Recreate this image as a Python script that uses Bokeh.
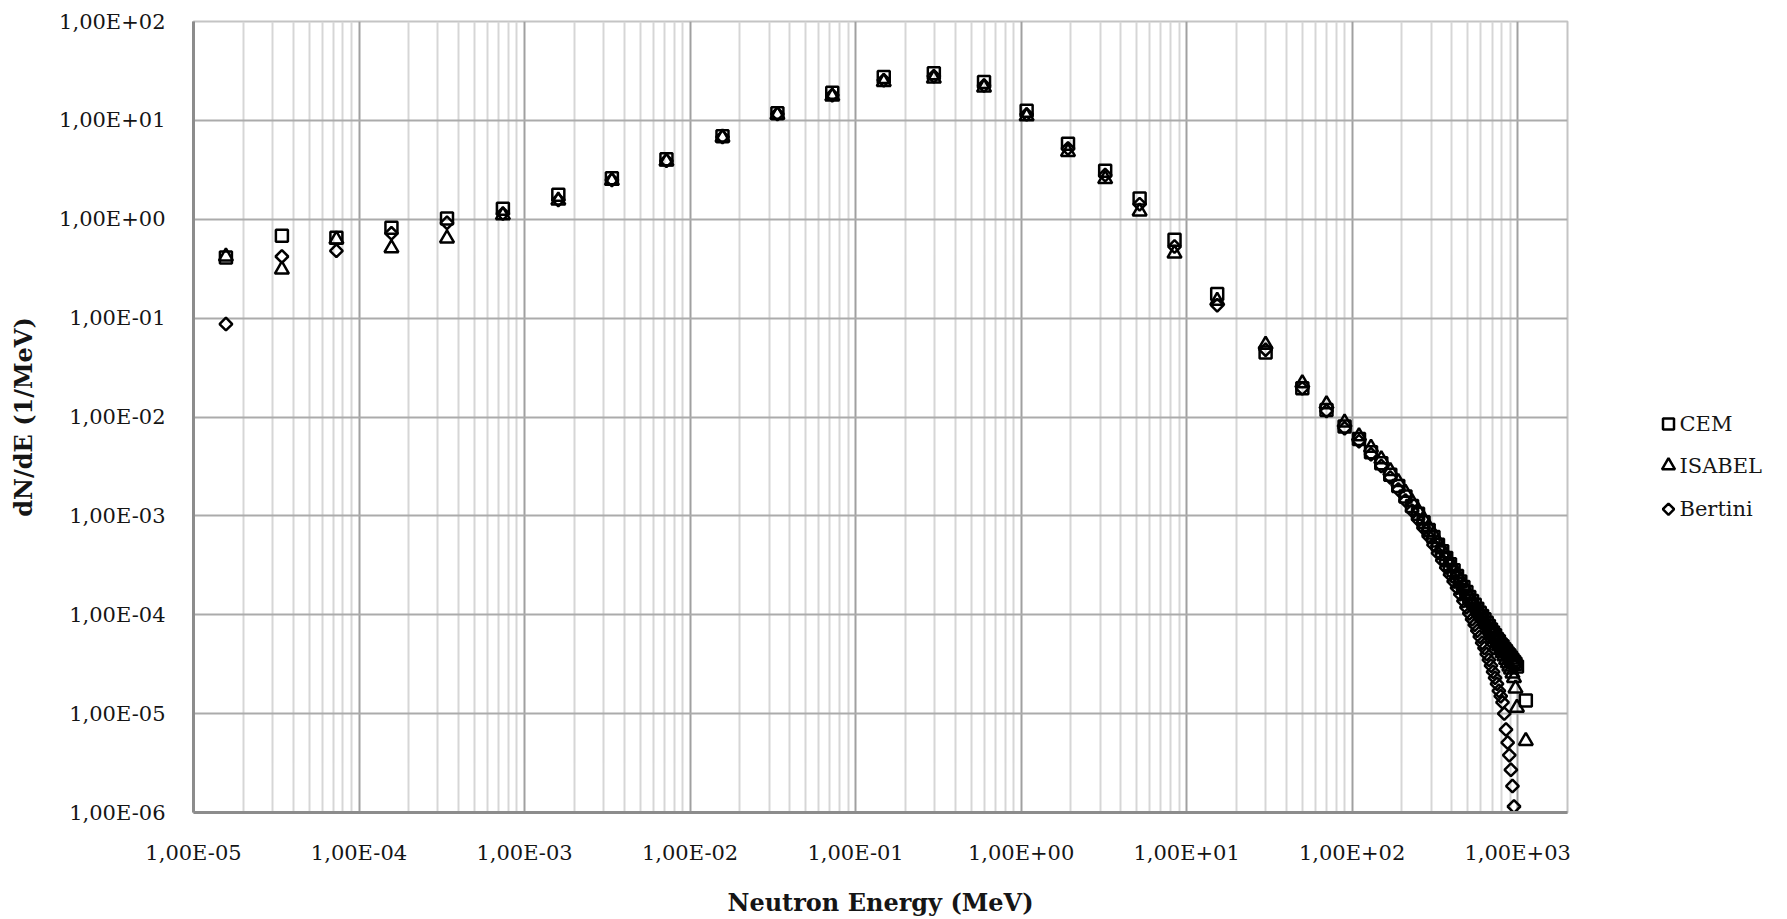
from bokeh.plotting import figure
from bokeh.layouts import row
from bokeh.models import FixedTicker, CustomJSTickFormatter, Range1d
from bokeh.core.properties import value
from bokeh.embed import file_html
from bokeh.resources import INLINE
from math import pi

# Neutron energy bins (MeV), shared low-energy part
energy_low = [1.57e-5, 3.42e-5, 7.3e-5, 1.57e-4, 3.4e-4, 7.4e-4, 1.6e-3,
              3.37e-3, 7.2e-3, 1.57e-2, 3.37e-2, 7.23e-2, 0.148, 0.297,
              0.597, 1.08, 1.92, 3.22, 5.2, 8.45, 15.3]

# High-energy part (20 MeV steps)
energy_high = [30, 50, 70, 90, 110, 130, 150, 170, 190, 210,
               230, 250, 270, 290, 310, 330, 350, 370, 390, 410,
               430, 450, 470, 490, 510, 530, 550, 570, 590, 610,
               630, 650, 670, 690, 710, 730, 750, 770, 790, 810,
               830, 850, 870, 890, 910, 930, 950, 970, 990]

# dN/dE (1/MeV) per model
cem_low = [0.41, 0.68, 0.65, 0.82, 1.02, 1.28, 1.77, 2.6, 4.05, 6.9, 11.8,
           19.0, 27.5, 30.0, 24.5, 12.5, 5.8, 3.1, 1.62, 0.62, 0.175]
isabel_low = [0.42, 0.31, 0.625, 0.51, 0.64, 1.10, 1.55, 2.45, 3.85, 6.7,
              11.4, 17.5, 24.5, 26.5, 21.5, 11.0, 4.8, 2.55, 1.2, 0.45, 0.15]
bertini_low = [0.087, 0.42, 0.48, 0.72, 0.92, 1.14, 1.57, 2.5, 3.9, 6.8,
               11.6, 18.0, 25.5, 28.0, 22.5, 11.5, 5.2, 2.8, 1.42, 0.53, 0.135]

cem_high = [0.045, 0.0195, 0.0118, 0.0080, 0.0060, 0.0044, 3.4e-3, 2.6e-3,
            2.0e-3, 1.57e-3, 1.26e-3, 1.05e-3, 8.6e-4, 7.2e-4, 6.1e-4, 5.1e-4,
            4.4e-4, 3.76e-4, 3.24e-4, 2.82e-4, 2.47e-4, 2.17e-4, 1.91e-4,
            1.70e-4, 1.51e-4, 1.38e-4, 1.26e-4, 1.15e-4, 1.05e-4, 9.7e-5,
            9.0e-5, 8.3e-5, 7.7e-5, 7.1e-5, 6.6e-5, 6.2e-5, 5.7e-5, 5.4e-5,
            5.0e-5, 4.8e-5, 4.5e-5, 4.3e-5, 4.05e-5, 3.9e-5, 3.7e-5, 3.5e-5,
            3.35e-5, 3.2e-5, 3.0e-5]
isabel_high = [0.054, 0.022, 0.0135, 0.0088, 0.0064, 0.0049, 3.75e-3, 2.85e-3,
               2.2e-3, 1.72e-3, 1.38e-3, 1.13e-3, 9.3e-4, 7.7e-4, 6.5e-4,
               5.4e-4, 4.6e-4, 3.95e-4, 3.4e-4, 2.95e-4, 2.57e-4, 2.25e-4,
               1.97e-4, 1.74e-4, 1.54e-4, 1.39e-4, 1.26e-4, 1.14e-4, 1.04e-4,
               9.5e-5, 8.7e-5, 8.0e-5, 7.3e-5, 6.7e-5, 6.2e-5, 5.7e-5, 5.2e-5,
               4.8e-5, 4.4e-5, 4.1e-5, 3.8e-5, 3.5e-5, 3.25e-5, 3.0e-5, 2.8e-5,
               2.55e-5, 2.3e-5, 1.8e-5, 1.15e-5]
bertini_high = [0.048, 0.0195, 0.0115, 0.0077, 0.0057, 0.0042, 3.2e-3, 2.45e-3,
                1.85e-3, 1.43e-3, 1.13e-3, 9.2e-4, 7.5e-4, 6.2e-4, 5.1e-4,
                4.2e-4, 3.55e-4, 3.0e-4, 2.55e-4, 2.17e-4, 1.87e-4, 1.61e-4,
                1.38e-4, 1.19e-4, 1.03e-4, 9.0e-5, 7.9e-5, 6.9e-5, 6.0e-5,
                5.2e-5, 4.6e-5, 4.0e-5, 3.5e-5, 3.05e-5, 2.65e-5, 2.3e-5,
                2.0e-5, 1.7e-5, 1.5e-5, 1.3e-5, 1.0e-5, 6.9e-6, 5.1e-6, 3.8e-6,
                2.7e-6, 1.85e-6, 1.15e-6]

# Last bin above 1 GeV
tail_energy = [1120]
cem_tail = [1.36e-5]
isabel_tail = [5.3e-6]

series_names = ["CEM", "ISABEL", "Bertini"]

x_ticks = [1e-5, 1e-4, 1e-3, 1e-2, 1e-1, 1e0, 1e1, 1e2, 1e3]
y_ticks = [1e-6, 1e-5, 1e-4, 1e-3, 1e-2, 1e-1, 1e0, 1e1, 1e2]
x_minor = [m * d for d in x_ticks for m in (2, 3, 4, 5, 6, 7, 8, 9)]

cem_x = energy_low + energy_high + tail_energy
cem_y = cem_low + cem_high + cem_tail
isabel_x = energy_low + energy_high + tail_energy
isabel_y = isabel_low + isabel_high + isabel_tail
bertini_x = energy_low + energy_high[:len(bertini_high)]
bertini_y = bertini_low + bertini_high

# marker styles: square, triangle, diamond (a square turned by 45 degrees)
marker_styles = [dict(marker="square", size=12, angle=0.0),
                 dict(marker="triangle", size=14, angle=0.0),
                 dict(marker="square", size=9, angle=pi / 4)]

p = figure(width=1580, height=919, x_axis_type="log", y_axis_type="log",
           x_range=Range1d(1e-5, 2000), y_range=Range1d(1e-6, 100),
           output_backend="svg", toolbar_location=None,
           min_border_left=193, min_border_right=13,
           min_border_top=21, min_border_bottom=100)
p.background_fill_color = "white"
p.border_fill_color = "white"
p.outline_line_color = "#c4c4c4"
p.outline_line_width = 2

fmt = CustomJSTickFormatter(code="""
const e = Math.round(Math.log10(tick));
const a = Math.abs(e);
return '1,00E' + (e < 0 ? '-' : '+') + (a < 10 ? '0' : '') + a;
""")

p.xaxis.ticker = FixedTicker(ticks=x_ticks, minor_ticks=x_minor)
p.yaxis.ticker = FixedTicker(ticks=y_ticks, minor_ticks=[])
for ax in (p.xaxis[0], p.yaxis[0]):
    ax.formatter = fmt
    ax.axis_line_color = "#8c8c8c"
    ax.axis_line_width = 3
    ax.major_tick_line_color = None
    ax.minor_tick_line_color = None
    ax.major_label_text_font = "DejaVu Serif"
    ax.major_label_text_font_size = "21px"
    ax.major_label_text_color = "#151515"
    ax.major_label_standoff = 22
    ax.axis_label_text_font = "DejaVu Serif"
    ax.axis_label_text_font_style = "bold"
    ax.axis_label_text_font_size = "24px"
    ax.axis_label_text_color = "#151515"
p.xaxis.axis_label = "Neutron Energy (MeV)"
p.yaxis.axis_label = "dN/dE (1/MeV)"
p.xaxis.axis_label_standoff = 20
p.yaxis.axis_label_standoff = 18

p.xgrid.grid_line_color = "#a0a0a0"
p.xgrid.grid_line_width = 2
p.xgrid.minor_grid_line_color = "#d6d6d6"
p.xgrid.minor_grid_line_width = 2
p.ygrid.grid_line_color = "#ababab"
p.ygrid.grid_line_width = 2
p.ygrid.minor_grid_line_color = None

for (xs, ys), st in zip([(cem_x, cem_y), (isabel_x, isabel_y),
                         (bertini_x, bertini_y)], marker_styles):
    p.scatter(xs, ys, marker=st["marker"], size=st["size"], angle=st["angle"],
              line_color="black", line_width=2.5, fill_alpha=0)

# legend panel; its frame lines up with the plot frame (y from 21 to 819),
# so the y range is given in page pixels
leg = figure(width=207, height=919, x_range=Range1d(0, 207),
             y_range=Range1d(819, 21), output_backend="svg",
             toolbar_location=None, x_axis_location=None,
             y_axis_location=None, min_border=0)
leg.outline_line_color = None
leg.grid.visible = False
leg.background_fill_color = "white"
leg.border_fill_color = "white"
legend_rows = [427, 469, 513]
for name, yy, st in zip(series_names, legend_rows, marker_styles):
    leg.scatter([88], [yy], marker=st["marker"], size=st["size"] - 1,
                angle=st["angle"], line_color="black", line_width=2.5,
                fill_alpha=0)
leg.text(x=[99] * 3, y=legend_rows, text=series_names,
         text_font=value("DejaVu Serif"), text_font_size="21px",
         text_baseline="middle", text_align="left", text_color="#151515")

layout = row(p, leg, spacing=0)
open("out.html", "w").write(file_html(layout, INLINE))
